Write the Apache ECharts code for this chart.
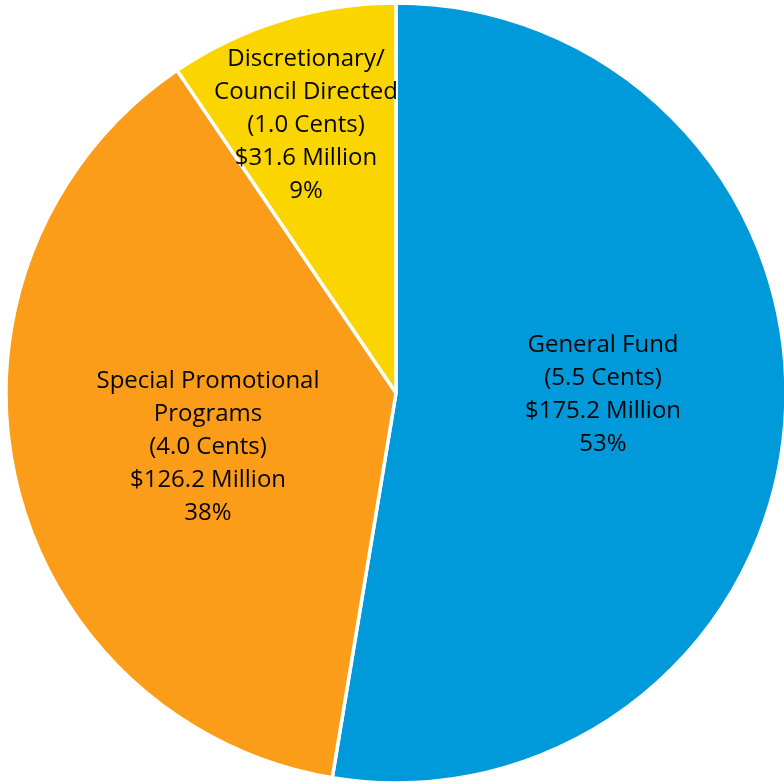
<!DOCTYPE html>
<html>
<head>
<meta charset="utf-8">
<script src="https://cdn.jsdelivr.net/npm/echarts@6/dist/echarts.min.js"></script>
<style>
  html, body { margin: 0; padding: 0; background: #ffffff; }
  #chart { width: 784px; height: 784px; }
</style>
</head>
<body>
<div id="chart"></div>
<script>
// Hotel tax allocation by use
const categories = ['General Fund', 'Special Promotional\nPrograms', 'Discretionary/\nCouncil Directed'];
const cents = ['5.5 Cents', '4.0 Cents', '1.0 Cents'];
const millions = [175.2, 126.2, 31.6];
const percents = ['53%', '38%', '9%'];
const colors = ['#0099da', '#fb9d19', '#fad500'];

// label centres for each slice (pixels)
const labelCenters = [[603, 395], [208, 447], [306, 125]];

const chart = echarts.init(document.getElementById('chart'), null, { renderer: 'canvas' });

const data = categories.map((name, i) => ({
  name: name,
  value: millions[i],
  itemStyle: { color: colors[i] }
}));

chart.setOption({
  animation: false,
  series: [{
    type: 'pie',
    center: [396, 393],
    radius: [0, 390],
    startAngle: 90,
    clockwise: true,
    data: data,
    itemStyle: { borderColor: '#ffffff', borderWidth: 3.5 },
    label: {
      show: true,
      position: 'inside',
      fontFamily: 'Open Sans',
      fontSize: 24,
      lineHeight: 33,
      color: '#050505',
      align: 'center',
      formatter: (p) => p.name + '\n(' + cents[p.dataIndex] + ')\n$' +
        millions[p.dataIndex].toFixed(1) + ' Million\n' + percents[p.dataIndex]
    },
    labelLine: { show: false },
    labelLayout: (params) => {
      const r = params.labelRect;
      const c = labelCenters[params.dataIndex];
      return {
        dx: c[0] - (r.x + r.width / 2),
        dy: c[1] - (r.y + r.height / 2)
      };
    },
    emphasis: { disabled: true }
  }]
});
</script>
</body>
</html>
